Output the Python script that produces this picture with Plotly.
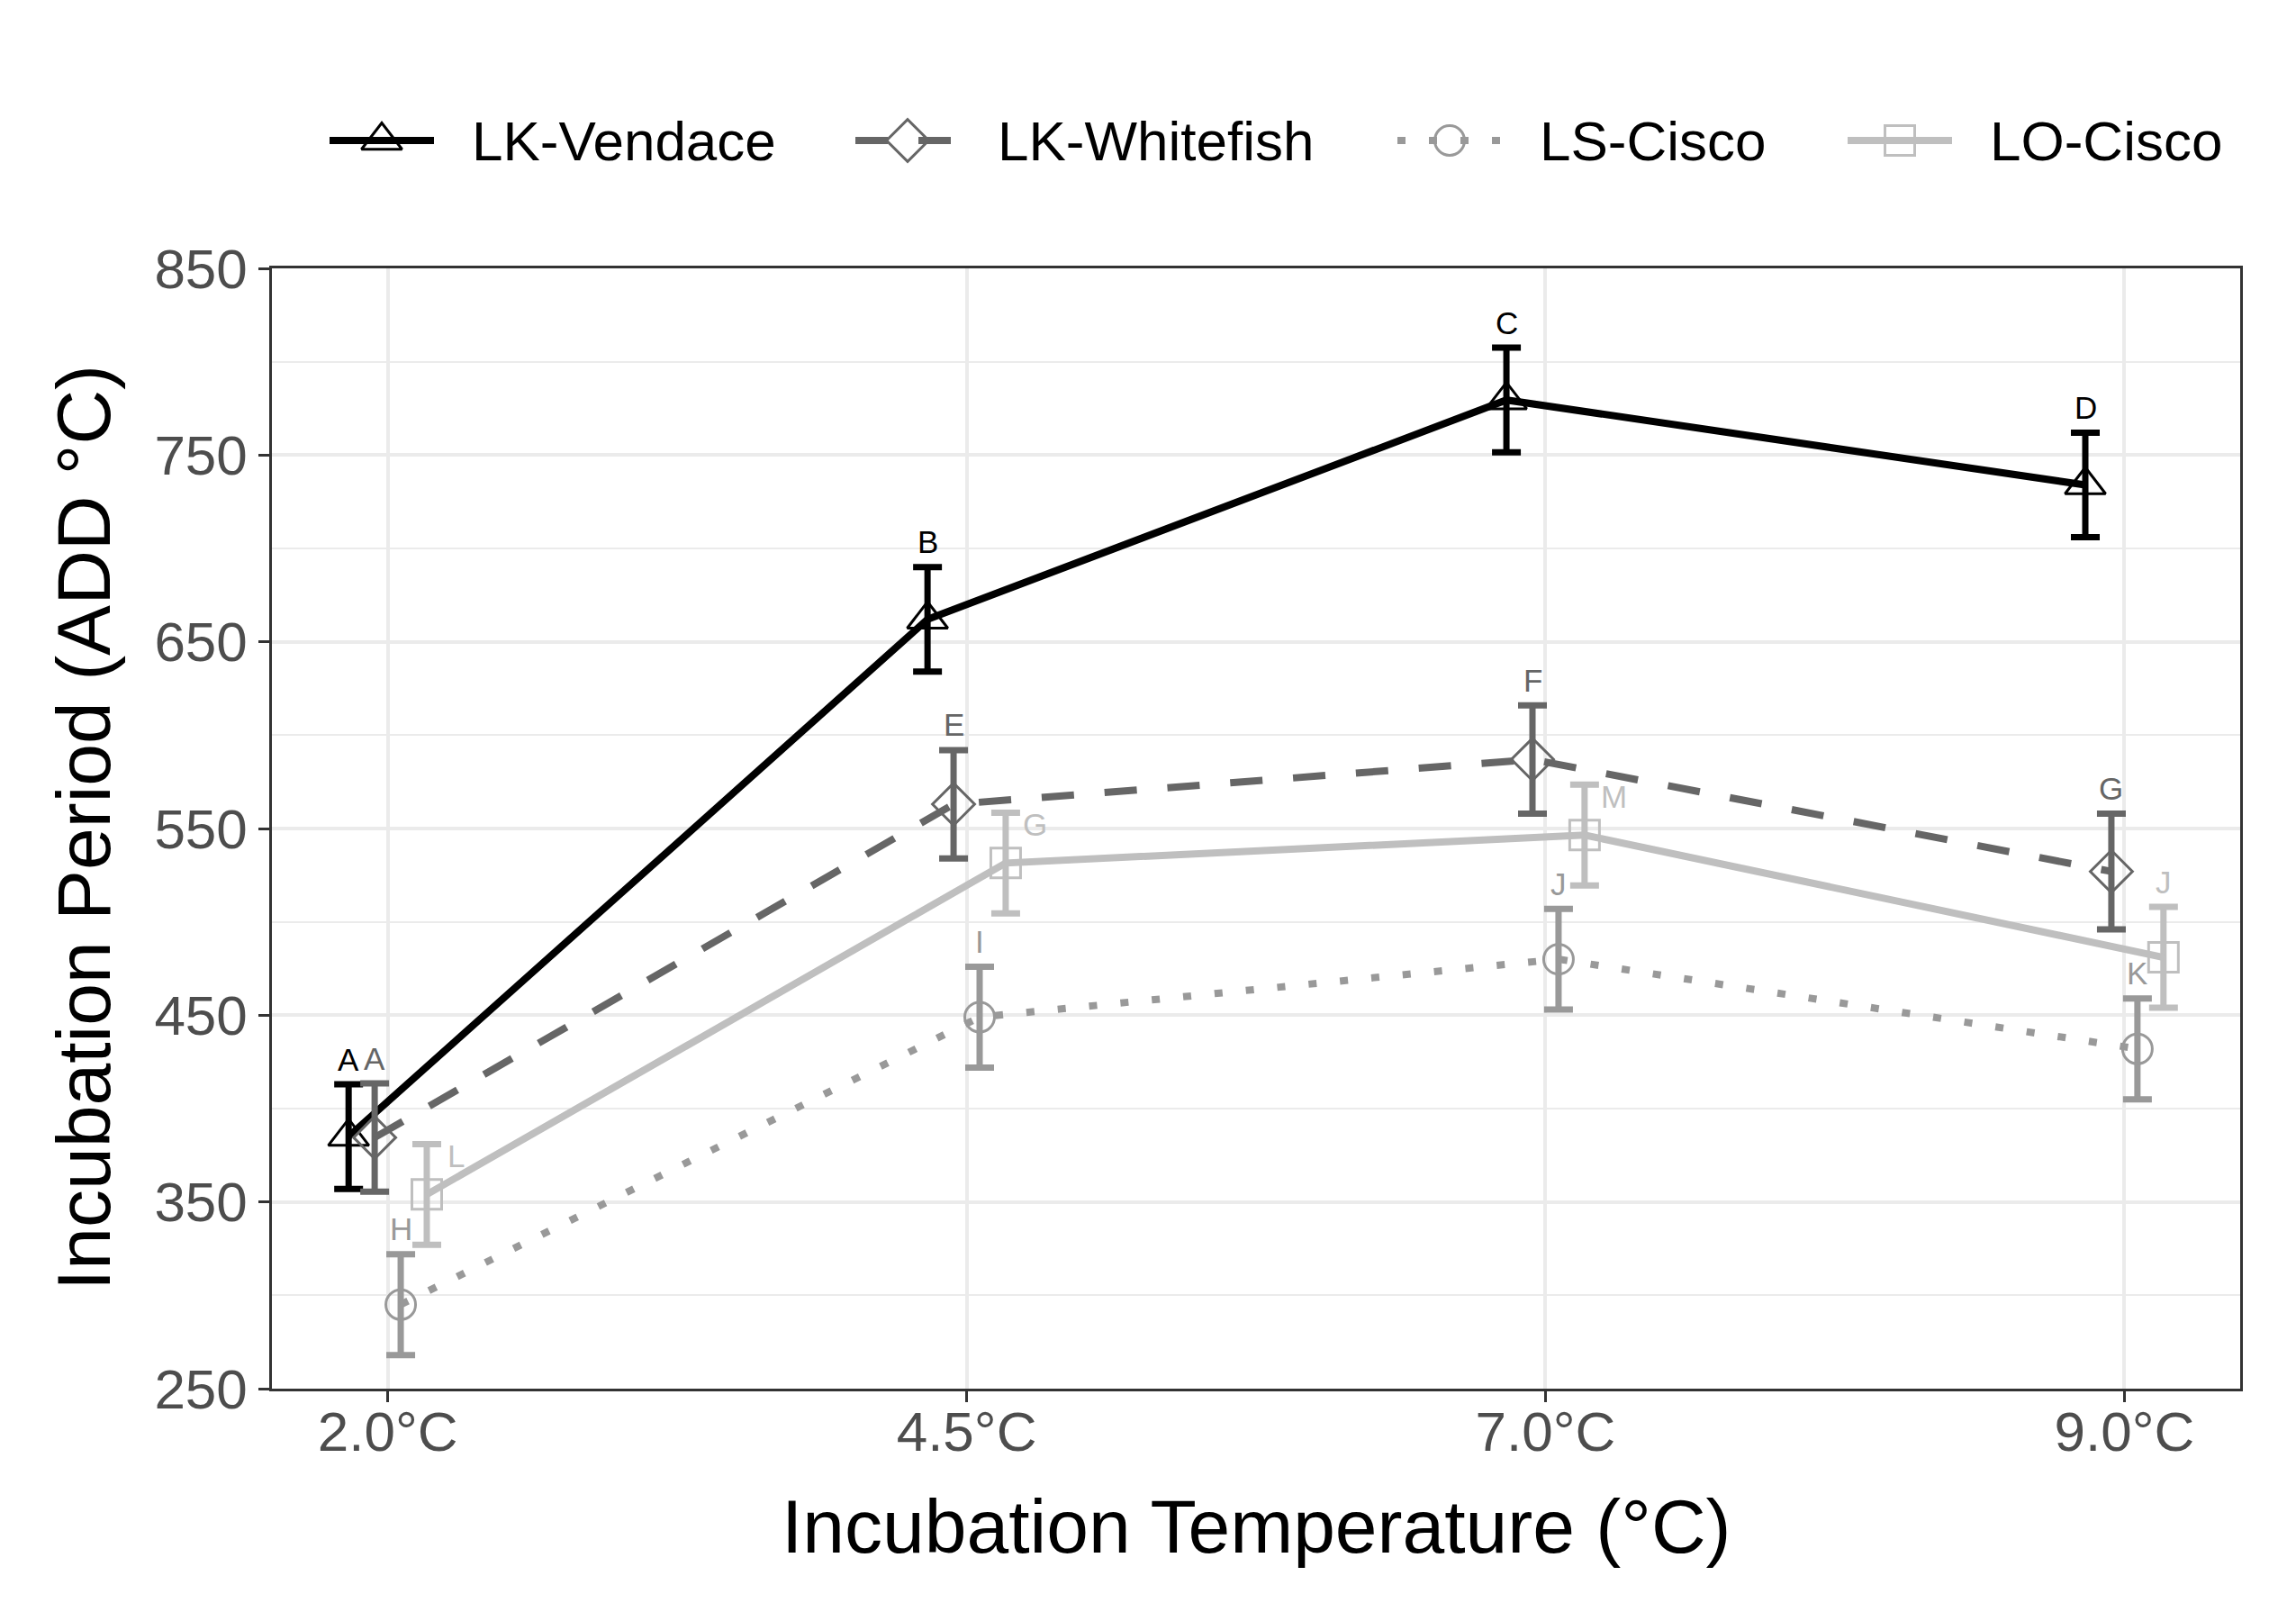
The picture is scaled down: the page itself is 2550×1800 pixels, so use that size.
import plotly.graph_objects as go

# x categories (incubation temperature)
temps = ["2.0°C", "4.5°C", "7.0°C", "9.0°C"]

# group names (legend order)
groups = ["LK-Vendace", "LK-Whitefish", "LS-Cisco", "LO-Cisco"]

# mean incubation period (ADD °C) and standard error
vendace_mean = [385, 662, 779.5, 734]
vendace_se = [28, 28, 28, 28]
whitefish_mean = [384.5, 563, 587, 527]
whitefish_se = [29, 29, 29, 31]
ls_cisco_mean = [295, 449, 480, 432]
ls_cisco_se = [27, 27, 27, 27]
lo_cisco_mean = [354, 531.5, 546.5, 481]
lo_cisco_se = [27, 27, 27, 27]

# significance letters
vendace_letters = ["A", "B", "C", "D"]
whitefish_letters = ["A", "E", "F", "G"]
ls_cisco_letters = ["H", "I", "J", "K"]
lo_cisco_letters = ["L", "G", "M", "J"]

means = [vendace_mean, whitefish_mean, ls_cisco_mean, lo_cisco_mean]
ses = [vendace_se, whitefish_se, ls_cisco_se, lo_cisco_se]
letters = [vendace_letters, whitefish_letters, ls_cisco_letters, lo_cisco_letters]

# styling per group
colors = ["#000000", "#666666", "#999999", "#bfbfbf"]
symbols = ["triangle-up-open", "diamond-open", "circle-open", "square-open"]
marker_sizes = [39, 36, 33, 33]
dashes = ["solid", "36px,34px", "9px,26px", "solid"]
dodge = [-0.0675, -0.0225, 0.0225, 0.0675]
# letter nudges (px): most sit above the error bar, LO-Cisco ones mostly sit to the right
letter_shift = [
    [(0, 28)] * 4,
    [(0, 28)] * 4,
    [(0, 28)] * 4,
    [(33, -13), (33, -13), (33, -13), (0, 28)],
]

FONT = "Liberation Sans, Arial, sans-serif"

# page body has an 8px margin, so the figure is shrunk by that and
# all pixel positions below are given in page coordinates
OFF = 8
W, H = 2550 - 2 * OFF, 1800 - 2 * OFF

# plot panel in page pixels
pl, pr, pt, pb = 302 - OFF, 2488 - OFF, 298 - OFF, 1542 - OFF

fig = go.Figure()

annotations = []
for g in range(len(groups)):
    xs = [i + dodge[g] for i in range(len(temps))]
    fig.add_trace(go.Scatter(
        x=xs, y=means[g],
        mode="lines+markers",
        name=groups[g],
        showlegend=False,
        line=dict(color=colors[g], width=8, dash=dashes[g]),
        marker=dict(symbol=symbols[g], size=marker_sizes[g], color=colors[g],
                    line=dict(width=3, color=colors[g])),
        error_y=dict(type="data", array=ses[g], visible=True,
                     color=colors[g], thickness=7, width=16),
        xaxis="x", yaxis="y",
    ))
    for i in range(len(temps)):
        dx, dy = letter_shift[g][i]
        annotations.append(dict(
            x=xs[i], y=means[g][i] + ses[g][i], xref="x", yref="y",
            text=letters[g][i], showarrow=False,
            xanchor="center", yanchor="middle",
            xshift=dx, yshift=dy,
            font=dict(family=FONT, size=35, color=colors[g]),
        ))

# custom legend row drawn on its own axis above the panel (pixel coordinates)
legend_centers = [424, 1008, 1610, 2110]
legend_y = 156
key_half = 58
for g in range(len(groups)):
    cx = legend_centers[g] - OFF
    cy = legend_y - OFF
    fig.add_trace(go.Scatter(
        x=[cx - key_half, cx + key_half], y=[cy, cy],
        mode="lines", showlegend=False, hoverinfo="skip",
        line=dict(color=colors[g], width=8, dash=dashes[g]),
        xaxis="x2", yaxis="y2",
    ))
    fig.add_trace(go.Scatter(
        x=[cx], y=[cy],
        mode="markers", showlegend=False, hoverinfo="skip",
        marker=dict(symbol=symbols[g], size=marker_sizes[g], color=colors[g],
                    line=dict(width=3, color=colors[g])),
        xaxis="x2", yaxis="y2",
    ))
    annotations.append(dict(
        x=cx + 98, y=cy, xref="x2", yref="y2",
        text=groups[g], showarrow=False,
        xanchor="left", yanchor="middle",
        font=dict(family=FONT, size=62, color="#000000"),
    ))

# axis titles
annotations.append(dict(
    x=(93 - OFF) / W, y=1 - (919 - OFF) / H, xref="paper", yref="paper",
    text="Incubation Period (ADD °C)", textangle=-90, showarrow=False,
    xanchor="center", yanchor="middle",
    font=dict(family=FONT, size=84, color="#000000"),
))
annotations.append(dict(
    x=(1395 - OFF) / W, y=1 - (1695 - OFF) / H, xref="paper", yref="paper",
    text="Incubation Temperature (°C)", showarrow=False,
    xanchor="center", yanchor="middle",
    font=dict(family=FONT, size=84, color="#000000"),
))

fig.update_layout(
    width=W, height=H,
    margin=dict(l=0, r=0, t=0, b=0, autoexpand=False),
    paper_bgcolor="white",
    plot_bgcolor="rgba(0,0,0,0)",
    showlegend=False,
    font=dict(family=FONT),
    annotations=annotations,
    xaxis=dict(
        domain=[pl / W, pr / W],
        range=[-0.2, len(temps) - 1 + 0.2],
        tickmode="array", tickvals=list(range(len(temps))), ticktext=temps,
        showgrid=True, gridcolor="#ebebeb", gridwidth=3.5,
        zeroline=False, automargin=False,
        showline=True, linecolor="#333333", linewidth=2.5, mirror=True,
        ticks="outside", ticklen=12, tickwidth=3, tickcolor="#333333",
        ticklabelstandoff=-20,
        tickfont=dict(family=FONT, size=62, color="#4d4d4d"),
        anchor="y",
    ),
    yaxis=dict(
        domain=[1 - pb / H, 1 - pt / H],
        range=[250, 850],
        tickmode="linear", tick0=250, dtick=100,
        showgrid=True, gridcolor="#ebebeb", gridwidth=3.5,
        minor=dict(tick0=300, dtick=100, showgrid=True, gridcolor="#ebebeb", gridwidth=1.8),
        zeroline=False, automargin=False,
        showline=True, linecolor="#333333", linewidth=2.5, mirror=True,
        ticks="outside", ticklen=12, tickwidth=3, tickcolor="#333333",
        tickfont=dict(family=FONT, size=62, color="#4d4d4d"),
        anchor="x",
    ),
    xaxis2=dict(domain=[0, 1], range=[0, W], visible=False, fixedrange=True,
                automargin=False, anchor="y2"),
    yaxis2=dict(domain=[1 - pt / H, 1], range=[pt, 0], visible=False, fixedrange=True,
                automargin=False, anchor="x2"),
)

fig.write_html("out.html")
